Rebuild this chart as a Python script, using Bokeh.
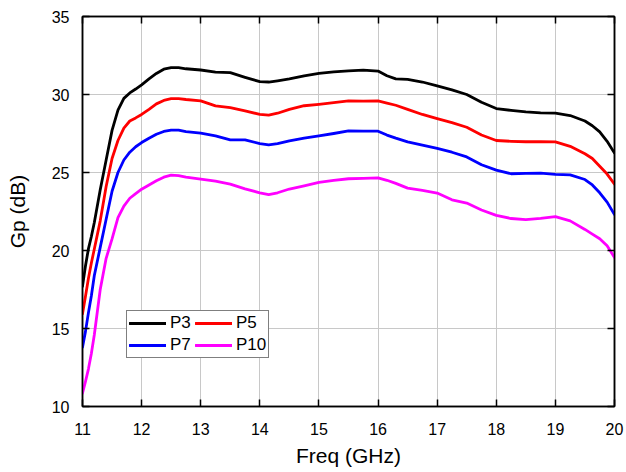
from bokeh.plotting import figure
from bokeh.models import Legend, LegendItem, LinearAxis, FixedTicker, Range1d, CustomJSTickFormatter
from bokeh.embed import file_html
from bokeh.resources import INLINE

freq = [11.0, 11.05, 11.1, 11.15, 11.2, 11.3, 11.4, 11.5, 11.6, 11.7, 11.8, 11.9,
        12.0, 12.125, 12.25, 12.375, 12.5, 12.625, 12.75, 13.0, 13.25, 13.5, 13.75,
        14.0, 14.15, 14.3, 14.5, 14.75, 15.0, 15.25, 15.5, 15.75, 16.0, 16.15, 16.3,
        16.5, 16.75, 17.0, 17.25, 17.5, 17.75, 18.0, 18.25, 18.5, 18.75, 19.0, 19.25,
        19.5, 19.625, 19.75, 19.875, 20.0]

p3 = [17.7, 19.0, 20.1, 20.9, 21.8, 23.9, 25.8, 27.7, 29.0, 29.75, 30.1, 30.35,
      30.62, 31.0, 31.35, 31.62, 31.72, 31.72, 31.65, 31.57, 31.44, 31.4, 31.1,
      30.82, 30.8, 30.88, 31.0, 31.2, 31.36, 31.45, 31.52, 31.56, 31.5, 31.2, 31.0,
      30.97, 30.8, 30.55, 30.3, 30.0, 29.5, 29.1, 28.98, 28.88, 28.82, 28.8, 28.65,
      28.3, 28.0, 27.6, 27.0, 26.25]

p5 = [15.95, 17.05, 18.2, 19.2, 20.1, 21.9, 24.1, 25.9, 27.05, 27.85, 28.3, 28.5,
      28.72, 29.05, 29.4, 29.62, 29.73, 29.74, 29.68, 29.59, 29.27, 29.16, 28.95,
      28.72, 28.68, 28.8, 29.05, 29.28, 29.37, 29.48, 29.59, 29.57, 29.59, 29.45, 29.31,
      29.05, 28.72, 28.45, 28.2, 27.9, 27.4, 27.05, 27.0, 26.97, 26.97, 26.96, 26.68,
      26.2, 25.9, 25.4, 24.9, 24.25]

p7 = [13.8, 14.8, 16.0, 17.1, 18.4, 20.2, 22.0, 23.8, 25.0, 25.8, 26.3, 26.65,
      26.92, 27.2, 27.45, 27.63, 27.72, 27.72, 27.62, 27.52, 27.35, 27.09, 27.09,
      26.85, 26.77, 26.85, 27.03, 27.2, 27.35, 27.5, 27.67, 27.65, 27.65, 27.4, 27.2,
      26.96, 26.75, 26.54, 26.3, 26.0, 25.5, 25.15, 24.92, 24.95, 24.96, 24.88, 24.85,
      24.55, 24.2, 23.7, 23.1, 22.3]

p10 = [10.85, 11.6, 12.4, 13.4, 14.6, 17.5, 19.5, 20.74, 22.1, 22.85, 23.35, 23.65,
       23.93, 24.2, 24.47, 24.7, 24.83, 24.8, 24.7, 24.58, 24.45, 24.25, 23.95,
       23.7, 23.58, 23.7, 23.94, 24.15, 24.37, 24.5, 24.6, 24.62, 24.66, 24.5, 24.3,
       24.0, 23.85, 23.68, 23.25, 23.04, 22.6, 22.25, 22.05, 21.98, 22.06, 22.17, 21.9,
       21.35, 21.05, 20.75, 20.3, 19.55]

series_names = ["P3", "P5", "P7", "P10"]
series_colors = ["#000000", "#ff0000", "#0000ff", "#ff00ff"]
x_ticks = [11, 12, 13, 14, 15, 16, 17, 18, 19, 20]
y_ticks = [10, 15, 20, 25, 30, 35]

FONT = "Liberation Sans"

p = figure(width=624, height=469, output_backend="svg", toolbar_location=None,
           x_range=Range1d(11, 20), y_range=Range1d(10, 35),
           min_border_left=82, min_border_right=10, min_border_top=16,
           min_border_bottom=62)
p.background_fill_color = "white"
p.border_fill_color = "white"
p.outline_line_color = "black"
p.outline_line_width = 1.5

p.xgrid.ticker = FixedTicker(ticks=x_ticks)
p.ygrid.ticker = FixedTicker(ticks=y_ticks)
p.grid.grid_line_color = "#c8c8c8"
p.grid.grid_line_width = 1

renderers = {}
for name, ys, c in zip(series_names, [p3, p5, p7, p10], series_colors):
    renderers[name] = p.line(freq, ys, line_color=c, line_width=2.8,
                             line_join="round", line_cap="round")

for ax in [p.xaxis[0], p.yaxis[0]]:
    ax.major_label_text_font = FONT
    ax.major_label_text_font_size = "16px"
    ax.major_label_text_color = "black"
    ax.axis_label_text_font = FONT
    ax.axis_label_text_font_size = "21px"
    ax.axis_label_text_font_style = "normal"
    ax.axis_label_text_color = "black"
    ax.axis_line_color = "black"
    ax.axis_line_width = 1.5
    ax.major_tick_in = 7
    ax.major_tick_out = 0
    ax.major_tick_line_color = "black"
    ax.major_tick_line_width = 1.5
    ax.minor_tick_line_color = None

p.xaxis[0].ticker = FixedTicker(ticks=x_ticks)
p.yaxis[0].ticker = FixedTicker(ticks=y_ticks)
p.xaxis[0].axis_label = "Freq (GHz)"
p.yaxis[0].axis_label = "Gp (dB)"
p.xaxis[0].major_label_standoff = 16
p.xaxis[0].axis_label_standoff = 6
p.yaxis[0].major_label_standoff = 13
p.yaxis[0].axis_label_standoff = 20

blank = CustomJSTickFormatter(code="return ''")
top_ax = LinearAxis(ticker=FixedTicker(ticks=x_ticks), formatter=blank)
right_ax = LinearAxis(ticker=FixedTicker(ticks=y_ticks), formatter=blank)
for ax in [top_ax, right_ax]:
    ax.major_label_standoff = 0
    ax.axis_line_color = "black"
    ax.axis_line_width = 1.5
    ax.major_tick_in = 7
    ax.major_tick_out = 0
    ax.major_tick_line_width = 1.5
    ax.minor_tick_line_color = None
p.add_layout(top_ax, "above")
p.add_layout(right_ax, "right")

# column-major filling: order so rows read P3 P5 / P7 P10
legend_order = ["P3", "P7", "P5", "P10"]
legend = Legend(items=[LegendItem(label=n, renderers=[renderers[n]]) for n in legend_order],
                ncols=2, location=(44, 48))
legend.label_text_font = FONT
legend.label_text_font_size = "17px"
legend.label_text_color = "black"
legend.glyph_width = 37
legend.glyph_height = 16
legend.label_height = 16
legend.label_width = 23
legend.label_standoff = 4
legend.spacing = 2
legend.padding = 2
legend.margin = 0
legend.border_line_color = "black"
legend.border_line_width = 1
legend.background_fill_alpha = 1
p.add_layout(legend, "center")

open("out.html", "w").write(file_html(p, INLINE))
